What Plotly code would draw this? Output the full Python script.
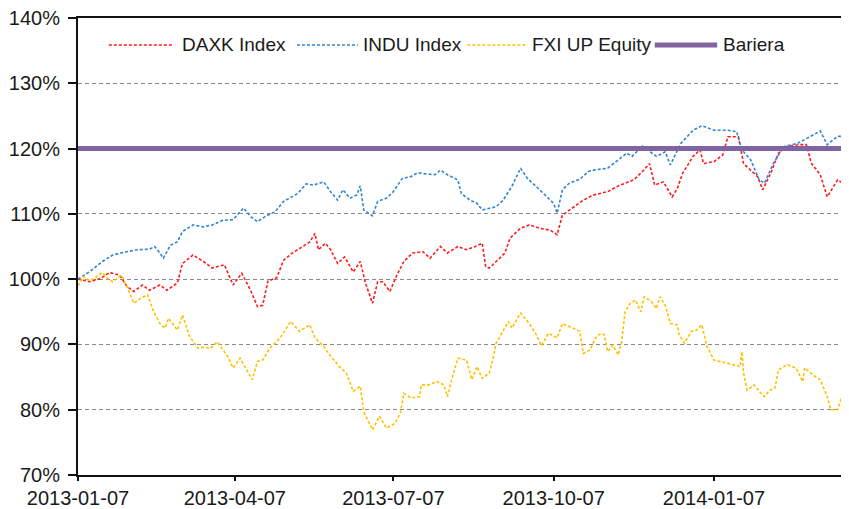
import plotly.graph_objects as go

# ---------------- data ----------------
daxk_dates = ["2013-01-07","2013-01-14","2013-01-20","2013-01-25","2013-01-31","2013-02-04","2013-02-08","2013-02-13","2013-02-17","2013-02-23",
              "2013-02-27","2013-03-05","2013-03-08","2013-03-14","2013-03-20","2013-03-25","2013-04-01","2013-04-06","2013-04-11","2013-04-16",
              "2013-04-20","2013-04-23","2013-04-26","2013-05-01","2013-05-05","2013-05-10","2013-05-16","2013-05-20","2013-05-23","2013-05-25",
              "2013-05-29","2013-06-01","2013-06-05","2013-06-09","2013-06-14","2013-06-18","2013-06-21","2013-06-25","2013-06-28","2013-07-01",
              "2013-07-05","2013-07-09","2013-07-13","2013-07-18","2013-07-24","2013-07-28","2013-08-03","2013-08-07","2013-08-13","2013-08-18",
              "2013-08-23","2013-08-27","2013-08-29","2013-08-31","2013-09-04","2013-09-09","2013-09-12","2013-09-18","2013-09-23","2013-09-29",
              "2013-10-05","2013-10-09","2013-10-12","2013-10-18","2013-10-24","2013-10-30","2013-11-07","2013-11-14","2013-11-22","2013-11-27",
              "2013-12-01","2013-12-04","2013-12-09","2013-12-14","2013-12-17","2013-12-20","2013-12-26","2013-12-30","2014-01-01","2014-01-07",
              "2014-01-12","2014-01-15","2014-01-21","2014-01-24","2014-01-28","2014-02-01","2014-02-04","2014-02-09","2014-02-13","2014-02-18",
              "2014-02-25","2014-03-01","2014-03-04","2014-03-09","2014-03-13","2014-03-19","2014-03-22","2014-03-25"]
daxk_values = [100.0, 99.6, 100.1, 101.0, 100.6, 98.9, 98.1, 99.1, 98.3, 99.1,
               98.3, 99.4, 102.4, 103.7, 102.7, 101.7, 102.2, 99.1, 100.9, 98.3,
               95.8, 96.0, 99.7, 100.2, 102.9, 104.0, 105.0, 105.7, 107.0, 104.5,
               105.5, 104.5, 102.4, 103.4, 101.1, 102.7, 99.4, 96.3, 99.6, 99.6,
               98.1, 100.6, 102.7, 104.0, 104.2, 103.2, 105.0, 104.0, 105.0, 104.5,
               105.0, 105.5, 101.9, 101.7, 102.7, 104.0, 106.3, 107.8, 108.3, 107.8,
               107.5, 106.8, 109.8, 110.9, 112.1, 112.9, 113.4, 114.4, 115.2, 116.5,
               117.7, 114.4, 114.9, 112.6, 113.9, 116.2, 118.8, 119.8, 117.7, 118.0,
               119.0, 121.8, 121.8, 117.7, 116.7, 115.7, 113.7, 116.5, 119.3, 120.3,
               120.6, 120.6, 117.7, 116.0, 112.6, 115.2, 114.7, 116.0]

indu_dates = ["2013-01-07","2013-01-14","2013-01-21","2013-01-27","2013-02-02","2013-02-10","2013-02-17","2013-02-20","2013-02-23","2013-02-25",
              "2013-03-01","2013-03-05","2013-03-08","2013-03-14","2013-03-20","2013-03-25","2013-03-31","2013-04-06","2013-04-12","2013-04-16",
              "2013-04-20","2013-04-25","2013-04-30","2013-05-05","2013-05-13","2013-05-18","2013-05-22","2013-05-28","2013-06-01","2013-06-05",
              "2013-06-08","2013-06-12","2013-06-16","2013-06-18","2013-06-20","2013-06-25","2013-06-28","2013-07-03","2013-07-07","2013-07-12",
              "2013-07-17","2013-07-21","2013-07-26","2013-07-31","2013-08-03","2013-08-07","2013-08-13","2013-08-15","2013-08-20","2013-08-24",
              "2013-08-27","2013-08-31","2013-09-04","2013-09-08","2013-09-13","2013-09-18","2013-09-22","2013-09-27","2013-10-03","2013-10-07",
              "2013-10-09","2013-10-12","2013-10-16","2013-10-22","2013-10-27","2013-10-30","2013-11-07","2013-11-12","2013-11-18","2013-11-21",
              "2013-11-27","2013-12-05","2013-12-10","2013-12-13","2013-12-19","2013-12-26","2013-12-31","2014-01-07","2014-01-15","2014-01-20",
              "2014-01-23","2014-01-28","2014-02-02","2014-02-05","2014-02-10","2014-02-16","2014-02-24","2014-03-03","2014-03-09","2014-03-13",
              "2014-03-19","2014-03-25"]
indu_values = [100.0, 101.2, 102.7, 103.7, 104.1, 104.5, 104.6, 105.0, 104.0, 103.2,
               105.2, 105.7, 107.3, 108.3, 108.0, 108.3, 109.0, 109.1, 110.9, 109.6,
               108.8, 109.7, 110.3, 111.9, 113.1, 114.6, 114.4, 114.9, 113.4, 112.1,
               113.7, 112.4, 112.9, 114.3, 110.6, 109.7, 111.9, 112.4, 113.4, 115.4,
               115.7, 116.3, 116.1, 116.0, 116.7, 116.0, 115.2, 113.1, 112.1, 111.6,
               110.6, 110.9, 111.1, 112.1, 114.2, 117.0, 115.4, 114.2, 112.6, 111.6,
               110.1, 113.7, 114.7, 115.3, 116.5, 116.7, 117.0, 118.0, 119.3, 118.8,
               120.4, 118.8, 119.5, 117.5, 120.8, 122.8, 123.5, 122.8, 122.8, 122.6,
               119.8, 118.3, 115.2, 114.7, 117.7, 120.3, 120.8, 121.8, 122.7, 120.6,
               121.9, 121.8]

fxi_dates = ["2013-01-07","2013-01-10","2013-01-14","2013-01-21","2013-01-24","2013-01-27","2013-02-01","2013-02-05","2013-02-08","2013-02-12",
             "2013-02-16","2013-02-19","2013-02-23","2013-02-26","2013-02-28","2013-03-05","2013-03-08","2013-03-12","2013-03-17","2013-03-21",
             "2013-03-24","2013-03-28","2013-04-03","2013-04-06","2013-04-10","2013-04-14","2013-04-17","2013-04-20","2013-04-23","2013-04-27",
             "2013-05-03","2013-05-09","2013-05-14","2013-05-20","2013-05-23","2013-05-28","2013-06-01","2013-06-06","2013-06-10","2013-06-14",
             "2013-06-18","2013-06-20","2013-06-25","2013-06-29","2013-07-03","2013-07-08","2013-07-11","2013-07-13","2013-07-17","2013-07-22",
             "2013-07-23","2013-07-27","2013-08-01","2013-08-05","2013-08-07","2013-08-10","2013-08-13","2013-08-18","2013-08-21","2013-08-24",
             "2013-08-27","2013-08-31","2013-09-02","2013-09-04","2013-09-08","2013-09-11","2013-09-13","2013-09-18","2013-09-23","2013-09-27",
             "2013-09-30","2013-10-04","2013-10-09","2013-10-12","2013-10-18","2013-10-22","2013-10-24","2013-10-28","2013-10-31","2013-11-03",
             "2013-11-05","2013-11-07","2013-11-10","2013-11-13","2013-11-15","2013-11-17","2013-11-20","2013-11-23","2013-11-26","2013-11-28",
             "2013-12-02","2013-12-05","2013-12-07","2013-12-10","2013-12-13","2013-12-17","2013-12-18","2013-12-21","2013-12-25","2013-12-28",
             "2013-12-31","2014-01-03","2014-01-07","2014-01-11","2014-01-15","2014-01-18","2014-01-22","2014-01-23","2014-01-24","2014-01-26",
             "2014-01-30","2014-02-02","2014-02-05","2014-02-08","2014-02-11","2014-02-13","2014-02-18","2014-02-23","2014-02-27","2014-02-28",
             "2014-03-05","2014-03-09","2014-03-13","2014-03-15","2014-03-19","2014-03-20","2014-03-25"]
fxi_values = [99.0, 100.4, 99.7, 101.0, 100.1, 99.6, 100.6, 98.3, 96.3, 97.1,
              97.6, 95.3, 93.2, 92.5, 94.0, 92.2, 94.5, 91.2, 89.4, 89.6,
              89.4, 90.4, 88.1, 86.4, 87.9, 86.1, 84.6, 87.4, 87.6, 89.4,
              91.0, 93.5, 92.0, 93.0, 91.0, 89.7, 88.2, 86.6, 85.6, 82.8,
              83.6, 79.7, 76.9, 79.0, 77.2, 77.9, 79.5, 82.5, 81.8, 82.0,
              83.8, 83.8, 84.3, 83.8, 82.0, 85.1, 87.9, 87.6, 84.6, 86.6,
              84.8, 85.6, 87.6, 90.2, 92.0, 93.5, 92.5, 94.8, 93.2, 91.5,
              89.8, 91.7, 91.0, 93.2, 92.5, 92.0, 88.6, 89.2, 91.0, 91.7,
              91.5, 88.9, 89.9, 88.4, 90.4, 95.0, 96.3, 96.8, 95.0, 97.3,
              96.6, 95.5, 97.3, 96.0, 93.2, 93.0, 91.5, 90.2, 92.0, 92.2,
              93.0, 89.7, 87.6, 87.4, 87.1, 86.9, 86.6, 88.9, 85.6, 83.0,
              83.8, 82.8, 82.0, 83.0, 83.3, 86.1, 86.9, 86.4, 84.3, 86.4,
              85.3, 84.6, 82.0, 80.0, 80.0, 81.0, 84.1]

bariera_dates = ["2013-01-07", "2014-03-26"]
bariera_values = [120, 120]

series_names = ["DAXK Index", "INDU Index", "FXI UP Equity", "Bariera"]
series_colors = ["#ff1a1a", "#2e86d6", "#ffc000", "#8064a2"]

y_ticks = [70, 80, 90, 100, 110, 120, 130, 140]
y_tick_text = ["70%", "80%", "90%", "100%", "110%", "120%", "130%", "140%"]
x_tick_vals = ["2013-01-07", "2013-04-07", "2013-07-07", "2013-10-07", "2014-01-07"]
x_tick_text = ["2013-01-07", "2013-04-07", "2013-07-07", "2013-10-07", "2014-01-07"]

FONT = "Liberation Sans, Arial, sans-serif"
TXT = "#1a1a1a"
FS = 20
FS_LEG = 19

fig = go.Figure()
dash_style = "3px,2px"
for name, xs, ys, col in [(series_names[0], daxk_dates, daxk_values, series_colors[0]),
                          (series_names[1], indu_dates, indu_values, series_colors[1]),
                          (series_names[2], fxi_dates, fxi_values, series_colors[2])]:
    fig.add_trace(go.Scatter(x=xs, y=ys, name=name, mode="lines",
                             line=dict(color=col, width=1.6, dash=dash_style),
                             showlegend=False))
fig.add_trace(go.Scatter(x=bariera_dates, y=bariera_values, name=series_names[3], mode="lines",
                         line=dict(color=series_colors[3], width=5), showlegend=False))

# manual legend (line samples + labels)
legend_y = 0.941
legend_items = [
    (0.040, 0.123, 0.132),
    (0.284, 0.363, 0.367),
    (0.505, 0.582, 0.586),
    (0.748, 0.829, 0.834),
]
shapes = []
annotations = []
for i, (x0, x1, xt) in enumerate(legend_items):
    if i < 3:
        ln = dict(color=series_colors[i], width=1.6, dash=dash_style)
    else:
        ln = dict(color=series_colors[i], width=5)
    shapes.append(dict(type="line", xref="paper", yref="paper", x0=x0, x1=x1,
                       y0=legend_y, y1=legend_y, line=ln))
    annotations.append(dict(xref="paper", yref="paper", x=xt, y=legend_y, text=series_names[i],
                            showarrow=False, xanchor="left", yanchor="middle",
                            font=dict(family=FONT, size=FS_LEG, color=TXT)))

# page body has an 8px default margin: size/margins compensate so the plot area
# lands at x 78..849, y 18..475 of the 849x509 window
fig.update_layout(
    width=841, height=501,
    margin=dict(l=70, r=0, t=10, b=34),
    paper_bgcolor="white", plot_bgcolor="white",
    font=dict(family=FONT, size=FS, color=TXT),
    shapes=shapes, annotations=annotations,
    showlegend=False,
)
fig.update_xaxes(
    type="date", range=["2013-01-07", "2014-03-25 12:00"],
    tickvals=x_tick_vals, ticktext=x_tick_text,
    showgrid=False, showline=True, linecolor="#111111", linewidth=2, mirror=True,
    ticks="outside", ticklen=4, tickwidth=1.5, tickcolor="#111111",
    tickfont=dict(family=FONT, size=FS, color=TXT), automargin=False,
    ticklabeloverflow="allow",
)
fig.update_yaxes(
    range=[70, 140], tickvals=y_ticks, ticktext=y_tick_text,
    showgrid=True, gridcolor="#8a8a8a", gridwidth=1, griddash="4px,3px",
    showline=True, linecolor="#111111", linewidth=2, zeroline=False,
    ticks="outside", ticklen=8, tickwidth=1.5, tickcolor="#111111",
    tickfont=dict(family=FONT, size=FS, color=TXT), automargin=False,
    ticklabeloverflow="allow", ticklabelstandoff=4,
)

fig.write_html("out.html")
